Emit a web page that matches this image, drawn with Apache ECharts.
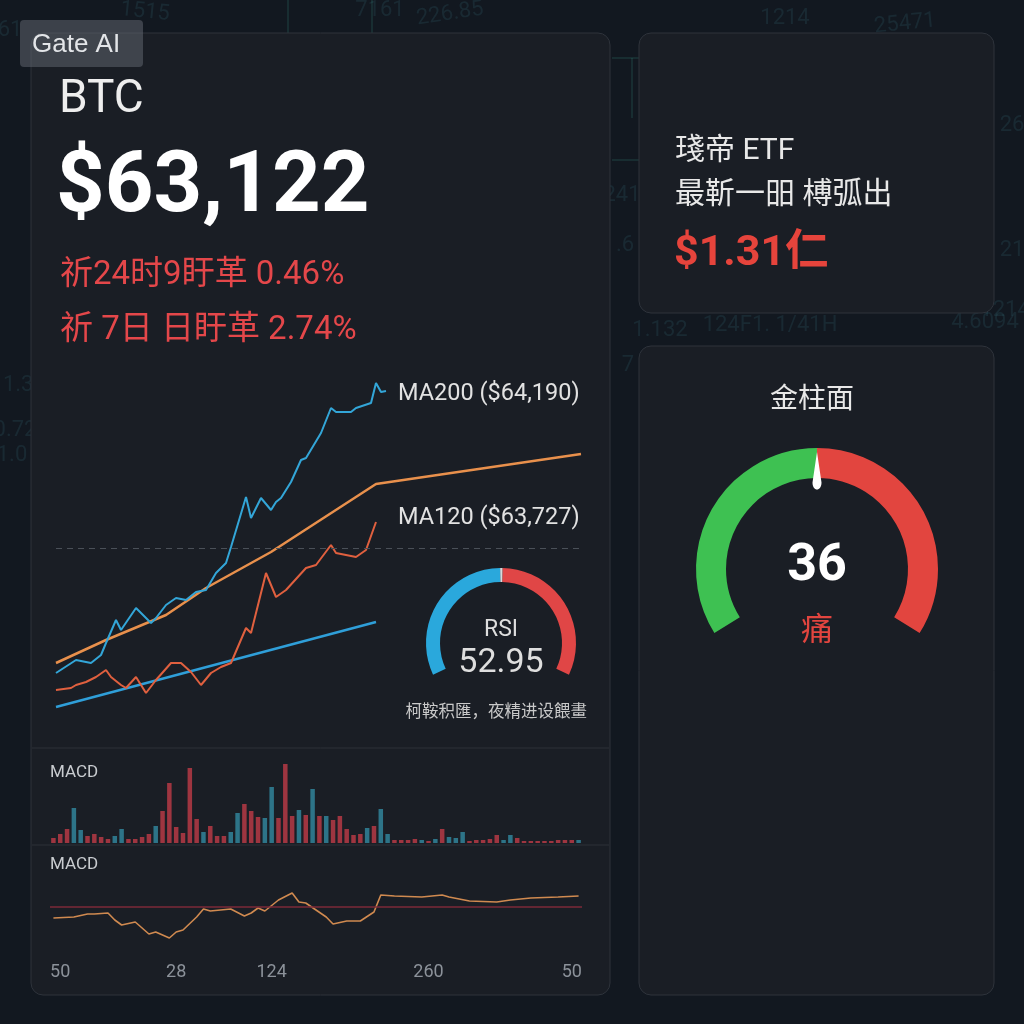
<!DOCTYPE html>
<html><head><meta charset="utf-8">
<script src="https://cdn.jsdelivr.net/npm/echarts@6/dist/echarts.min.js"></script>
<style>html,body{margin:0;padding:0;background:#121820}#c{width:1024px;height:1024px}</style>
</head><body><div id="c"></div><script>
// ---- data ----
const priceDays = [0,4,7,9,10,12,13,16,19,20,22,24,26,28,30,32,34,35,38,39,41,43,44,45,47,49,50,53,55,56,59,60,63,64,65,66];
const priceVals = [37,50,47,55,67,90,80,102,87,92,105,112,110,118,120,137,147,163,213,192,212,200,208,212,228,250,252,277,302,298,298,302,307,327,318,319];
const ma120Days = [0,3,4,6,8,10,11,13,14,16,18,20,23,25,27,29,31,33,35,38,39,42,44,46,50,52,55,56,60,62,64];
const ma120Vals = [20,22,25,28,33,40,33,25,22,33,17,30,47,47,38,25,37,43,47,82,77,137,113,120,142,145,165,157,153,160,188];
const ma200Days = [0,10,22,30,43,64,105];
const ma200Vals = [47,70,95,122,158,226,256];
const trendDays = [0,64];
const trendVals = [3,88];
const refLevel = 162;
const histVals = [5,9,14,35,13,7,9,6,4,7,14,4,4,6,9,17,32,60,16,10,75,24,11,17,7,7,11,30,39,32,26,25,56,25,79,27,33,28,54,27,27,23,27,14,8,9,15,17,34,9,3,3,3,4,3,2,4,14,6,5,11,2,3,3,4,8,3,8,5,2,2,2,2,2,3,3,3,3];
const histSide = "rrrttrrrrt"+"trrrrtrrrr"+"rrtrrrttrr"+"rttrrrtrtr"+"trrrrrtrtt"+"rrrrtrtrtt"+"trrrrrttrr"+"rrrrrrrt";
const macdIdx = [0,3,5,6,8,9,10,12,14,15,17,18,19,21,22,23,26,28,29,30,31,33,35,36,37,40,41,43,45,47,48,50,54,57,58,61,65,67,70,74,77];
const macdVals = [-11,-10,-7,-7,-6,-13,-18,-15,-27,-25,-31,-25,-23,-10,-2,-4,-2,-9,-6,-1,-4,7,14,5,4,-10,-17,-14,-14,-5,12,11,10,12,10,6,5,7,9,10,11];
const tickLabels = ['50','28','124','260','50'];
const tickIdx = [1,18,32,55,76];
const rsiValue = 52.95;
const fearValue = 36;
const fearMax = 72;

const FONT = "Roboto, 'Noto Sans CJK SC', sans-serif";
const cats = histVals.map((_, i) => { const k = tickIdx.indexOf(i); return k >= 0 ? tickLabels[k] : ''; });
const pairs = (xs, ys) => xs.map((x, i) => [x, ys[i]]);

const chart = echarts.init(document.getElementById('c'), null, {renderer: 'canvas'});

const bgNums = [
  ['1515', 145, 12, -0.1], ['226.85', 450, 14, 0.15], ['1214', 785, 18, 0], ['25471', 905, 24, 0.1],
  ['4.6094', 985, 322, 0], ['124F1. 1/41H', 770, 325, 0], ['1.132', 660, 330, 0], ['11.3', 12, 385, 0],
  ['0.72', 15, 430, 0], ['26', 1012, 125, 0], ['241', 622, 195, 0], ['.6', 625, 245, 0], ['21', 1012, 250, 0],
  ['1214', 1005, 310, 0], ['7', 628, 365, 0], ['1.0', 12, 455, 0], ['61', 10, 30, 0], ['7161', 380, 10, 0]
];
const graphics = [];
bgNums.forEach(([t, x, y, r]) => graphics.push({type: 'text', x, y, rotation: r, z: 0,
  style: {text: t, fill: 'rgba(70,150,165,0.14)', font: '22px ' + FONT, textAlign: 'center', textVerticalAlign: 'middle'}}));
[[288,0,288,33],[372,0,372,33],[612,58,640,58],[612,160,640,160],[632,58,632,118],[600,320,600,346]].forEach(p =>
  graphics.push({type: 'line', z: 0, shape: {x1: p[0], y1: p[1], x2: p[2], y2: p[3]}, style: {stroke: 'rgba(60,170,150,0.3)', lineWidth: 1}}));
// cards
[[31,33,579,962],[639,33,355,280],[639,346,355,649]].forEach(c =>
  graphics.push({type: 'rect', z: 1, shape: {x: c[0], y: c[1], width: c[2], height: c[3], r: 12},
    style: {fill: '#1a1e25', stroke: '#2e333b', lineWidth: 1}}));
graphics.push({type: 'line', z: 1, shape: {x1: 32, y1: 748, x2: 609, y2: 748}, style: {stroke: '#2c3139', lineWidth: 1}});
graphics.push({type: 'line', z: 1, shape: {x1: 32, y1: 845, x2: 609, y2: 845}, style: {stroke: '#2c3139', lineWidth: 1}});
// badge
graphics.push({type: 'rect', z: 20, shape: {x: 20, y: 20, width: 123, height: 47, r: 4}, style: {fill: 'rgba(95,100,110,0.55)'}});
const txt = (t, x, y, size, color, opts = {}) => graphics.push({type: 'text', x, y, z: 21,
  style: Object.assign({text: t, fill: color, font: (opts.weight || 'normal') + ' ' + size + 'px ' + (opts.family || FONT),
    textAlign: opts.align || 'left', textVerticalAlign: 'middle'}, opts.style || {})});
txt('Gate AI', 32, 45, 26, '#e3e5e8', {family: "'Liberation Sans', Arial, sans-serif"});
txt('BTC', 59, 100, 46, '#eeeeee');
txt('$63,122', 56, 190, 85, '#ffffff', {weight: 'bold'});
txt('祈24时9盱革 0.46%', 60, 276, 33, '#e4474a');
txt('祈 7日 日盱革 2.74%', 60, 331, 33, '#e4474a');
txt('MA200 ($64,190)', 398, 394, 23.5, '#e2e2e2');
txt('MA120 ($63,727)', 398, 518, 23.5, '#e2e2e2');
txt('柯鞍积匯，夜精进设餵畫', 587, 713, 16.5, '#c9c9c9', {align: 'right'});
txt('MACD', 50, 773, 17, '#c9ccd0');
txt('MACD', 50, 865, 17, '#c9ccd0');
txt('琖帝 ETF', 675, 151, 30, '#e8e8e8');
txt('最靳一昍 榑弧出', 675, 195, 30, '#e8e8e8', {style: {letterSpacing: 2}});
txt('$1.31仁', 674, 254, 43, '#e6443c', {weight: 'bold'});
txt('金柱面', 812, 401, 28, '#e8e8e8', {align: 'center'});

const option = {
  backgroundColor: '#121820',
  animation: false,
  graphic: {elements: graphics},
  grid: [
    {left: 56, top: 380, width: 525, height: 330, outerBoundsMode: 'none'},
    {left: 50, top: 763, width: 532, height: 80, outerBoundsMode: 'none'},
    {left: 50, top: 872, width: 532, height: 70, outerBoundsMode: 'none'}
  ],
  xAxis: [
    {type: 'value', gridIndex: 0, min: 0, max: 105, show: false},
    {type: 'category', gridIndex: 1, data: cats, show: false},
    {type: 'category', gridIndex: 2, data: cats, z: 10, axisLine: {show: false}, axisTick: {show: false},
      axisLabel: {interval: 0, color: '#8c929a', fontSize: 18, fontFamily: FONT, margin: 22}}
  ],
  yAxis: [
    {type: 'value', gridIndex: 0, min: 0, max: 330, show: false},
    {type: 'value', gridIndex: 1, min: 0, max: 80, show: false},
    {type: 'value', gridIndex: 2, min: -35, max: 35, show: false}
  ],
  series: [
    {type: 'line', xAxisIndex: 0, yAxisIndex: 0, data: pairs(trendDays, trendVals), showSymbol: false, z: 3,
      lineStyle: {color: '#2f9fd9', width: 2.5},
      markLine: {silent: true, symbol: 'none', label: {show: false},
        lineStyle: {color: '#4a5058', type: [6, 5], width: 1}, data: [{yAxis: refLevel}]}},
    {type: 'line', xAxisIndex: 0, yAxisIndex: 0, data: pairs(ma200Days, ma200Vals), showSymbol: false, z: 3,
      lineStyle: {color: '#e8904c', width: 2.5}},
    {type: 'line', xAxisIndex: 0, yAxisIndex: 0, data: pairs(ma120Days, ma120Vals), showSymbol: false, z: 4,
      lineStyle: {color: '#e0603f', width: 2}},
    {type: 'line', xAxisIndex: 0, yAxisIndex: 0, data: pairs(priceDays, priceVals), showSymbol: false, z: 4,
      lineStyle: {color: '#33a6d8', width: 2}},
    {type: 'bar', xAxisIndex: 1, yAxisIndex: 1, barWidth: 4.5, z: 3,
      data: histVals.map((v, i) => ({value: v, itemStyle: {color: histSide[i] === 'r' ? '#9e3540' : '#2d7488'}}))},
    {type: 'line', xAxisIndex: 2, yAxisIndex: 2, data: pairs(macdIdx, macdVals), showSymbol: false, z: 4,
      lineStyle: {color: '#d08a50', width: 1.6},
      markLine: {silent: true, symbol: 'none', label: {show: false},
        lineStyle: {color: '#7c2a38', type: 'solid', width: 1.5}, data: [{yAxis: 0}]}},
    {type: 'gauge', center: [501, 643], radius: 75, startAngle: 205, endAngle: -25, min: 0, max: 100, z: 5,
      axisLine: {lineStyle: {width: 14, color: [[0.497, '#2aa8dc'], [0.505, '#d9d9d9'], [1, '#e04646']]}},
      splitLine: {show: false}, axisTick: {show: false}, axisLabel: {show: false}, pointer: {show: false},
      anchor: {show: false},
      title: {offsetCenter: [0, -13], color: '#dedede', fontSize: 23, fontFamily: FONT},
      detail: {offsetCenter: [0, 20], color: '#dedede', fontSize: 34, fontWeight: 'normal', fontFamily: FONT,
        formatter: v => v.toFixed(2)},
      data: [{value: rsiValue, name: 'RSI'}]},
    {type: 'gauge', center: [817, 569], radius: 121, startAngle: 212, endAngle: -32, min: 0, max: fearMax, z: 5,
      axisLine: {lineStyle: {width: 30, color: [[0.5, '#3ec152'], [1, '#e2453f']]}},
      splitLine: {show: false}, axisTick: {show: false}, axisLabel: {show: false},
      pointer: {show: true, icon: 'path://M5,0 L10,26 C10,34 0,34 0,26 Z M5,100 L5,100.01', length: 117, width: 9,
        itemStyle: {color: '#ffffff'}},
      anchor: {show: false},
      title: {offsetCenter: [0, 63], color: '#e2453f', fontSize: 32, fontFamily: FONT},
      detail: {offsetCenter: [0, -2], color: '#ffffff', fontSize: 52, fontWeight: 'bold', fontFamily: FONT,
        formatter: '{value}'},
      data: [{value: fearValue, name: '痛'}]}
  ]
};
chart.setOption(option);
</script></body></html>
